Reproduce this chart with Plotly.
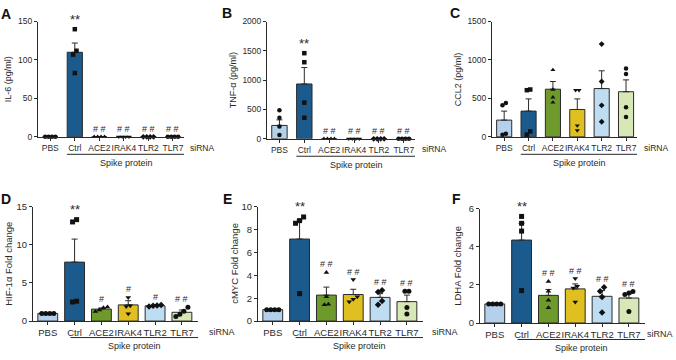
import plotly.graph_objects as go

W, H = 676, 360

groups = ["PBS", "Ctrl", "ACE2", "IRAK4", "TLR2", "TLR7"]
bar_colors = ["#b5d0ea", "#1b5a8c", "#6e9a2b", "#e0c020", "#bedcf2", "#d8e7b6"]
symbols = ["circle", "square", "triangle-up", "triangle-down", "diamond", "circle"]

# ---- Panel A: IL-6 (pg/ml)
il6_mean = [0, 110, 0, 0, 0, 0]
il6_sem = [0, 12, 0, 0, 0, 0]
il6_pts = [[0, 0, 0, 0], [140, 112, 107, 83], [0, 0, 0, 0], [0, 0, 0, 0], [0, 0, 0, 0], [0, 0, 0, 0]]
il6_sig = ["", "**", "# #", "# #", "# #", "# #"]

# ---- Panel B: TNF-α (pg/ml)
tnf_mean = [228, 935, 0, 0, 0, 0]
tnf_sem = [95, 280, 0, 0, 0, 0]
tnf_pts = [[485, 358, 209, 66], [1460, 1306, 617, 358], [0, 0, 0, 0], [0, 0, 0, 0], [0, 0, 0, 0], [0, 0, 0, 0]]
tnf_sig = ["", "**", "# #", "# #", "# #", "# #"]

# ---- Panel C: CCL2 (pg/ml)
ccl2_mean = [218, 335, 620, 356, 628, 587]
ccl2_sem = [117, 159, 100, 138, 231, 154]
ccl2_pts = [[440, 410, 42, 29], [616, 607, 71, 29], [871, 616, 515, 448],
            [607, 607, 147, 84], [1206, 720, 410, 197], [888, 817, 385, 260]]
ccl2_sig = ["", "", "", "", "", ""]

# ---- Panel D: HIF-1α Fold change
hif_mean = [1.0, 7.73, 1.57, 2.12, 2.0, 1.15]
hif_sem = [0.02, 3.02, 0.15, 0.55, 0.12, 0.3]
hif_pts = [[1, 1, 1, 1], [13.3, 13.0, 2.6, 2.5], [1.85, 1.75, 1.45, 1.25],
           [3.1, 2.0, 1.9, 0.95], [2.1, 2.05, 2.0, 1.9], [1.8, 1.3, 0.9, 0.6]]
hif_sig = ["", "**", "#", "#", "#", "# #"]

# ---- Panel E: cMYC Fold change
myc_mean = [1.0, 7.17, 2.27, 2.32, 2.07, 1.7]
myc_sem = [0.02, 1.67, 0.7, 0.46, 0.33, 0.57]
myc_pts = [[1, 1, 1, 1], [9.1, 8.78, 8.55, 2.4], [4.25, 2.12, 1.47, 1.42],
           [3.63, 2.12, 1.9, 1.7], [2.7, 2.55, 1.76, 1.42], [2.6, 2.6, 1.19, 0.62]]
myc_sig = ["", "**", "# #", "# #", "# #", "# #"]

# ---- Panel F: LDHA Fold change
ldha_mean = [1.0, 4.35, 1.45, 1.79, 1.4, 1.31]
ldha_sem = [0.02, 0.88, 0.31, 0.26, 0.3, 0.22]
ldha_pts = [[1, 1, 1, 1], [5.59, 5.23, 4.82, 1.7], [2.18, 1.67, 1.19, 0.8],
            [2.33, 1.93, 1.84, 1.1], [1.87, 1.67, 1.36, 0.55], [1.65, 1.58, 1.5, 0.6]]
ldha_sig = ["", "**", "# #", "# #", "# #", "# #"]

panels = [
    dict(letter="A", title="IL-6 (pg/ml)", mean=il6_mean, sem=il6_sem, pts=il6_pts, sig=il6_sig,
         ymax=150, dtick=50, xpx=(38, 184), ypx=(16, 135), row=0, letpx=(6, 8), titx=8, sipx=202),
    dict(letter="B", title="TNF-α (pg/ml)", mean=tnf_mean, sem=tnf_sem, pts=tnf_pts, sig=tnf_sig,
         ymax=2000, dtick=500, xpx=(267, 415), ypx=(16, 137), row=0, letpx=(227, 7), titx=233, sipx=434),
    dict(letter="C", title="CCL2 (pg/ml)", mean=ccl2_mean, sem=ccl2_sem, pts=ccl2_pts, sig=ccl2_sig,
         ymax=1500, dtick=500, xpx=(492, 637), ypx=(16, 135), row=0, letpx=(455, 7), titx=458, sipx=656),
    dict(letter="D", title="HIF-1α Fold change", mean=hif_mean, sem=hif_sem, pts=hif_pts, sig=hif_sig,
         ymax=15, dtick=5, xpx=(33, 198), ypx=(207, 325), row=1, letpx=(6, 199), titx=9, sipx=222),
    dict(letter="E", title="cMYC Fold change", mean=myc_mean, sem=myc_sem, pts=myc_pts, sig=myc_sig,
         ymax=10, dtick=2, xpx=(258, 423), ypx=(207, 325), row=1, letpx=(227, 199), titx=235, sipx=445),
    dict(letter="F", title="LDHA Fold change", mean=ldha_mean, sem=ldha_sem, pts=ldha_pts, sig=ldha_sig,
         ymax=6, dtick=2, xpx=(480, 645), ypx=(209, 327), row=1, letpx=(457, 199), titx=458, sipx=660),
]

FONT = "Liberation Sans, Arial, sans-serif"
INK = "#2a2a2a"


def px(x):
    return x / W


def py(y):
    return 1 - y / H


def spread(vals, ymax, step):
    # horizontal offsets for points that sit close together
    order = sorted(range(len(vals)), key=lambda k: vals[k])
    offs = [0.0] * len(vals)
    clusters = []
    for k in order:
        if clusters and abs(vals[k] - vals[clusters[-1][-1]]) < 0.035 * ymax:
            clusters[-1].append(k)
        else:
            clusters.append([k])
    for c in clusters:
        n = len(c)
        for j, k in enumerate(c):
            offs[k] = (j - (n - 1) / 2) * step
    return offs


fig = go.Figure()
layout = dict(width=W, height=H, margin=dict(l=0, r=0, t=0, b=0),
              paper_bgcolor="white", plot_bgcolor="white", showlegend=False,
              font=dict(family=FONT, color=INK))
annotations = []
shapes = []

for i, p in enumerate(panels):
    n = "" if i == 0 else str(i + 1)
    xa, ya = "x" + n, "y" + n
    top = p["row"] == 0
    tick_fs = 8.5 if top else 9.5
    xr = [-0.5, 5.45] if top else [-0.55, 5.6]
    bw = 0.62 if top else 0.74

    fig.add_trace(go.Bar(
        x=list(range(6)), y=p["mean"], width=bw, xaxis=xa, yaxis=ya,
        marker=dict(color=bar_colors, line=dict(color=INK, width=1)),
        error_y=dict(type="data", array=p["sem"], arrayminus=[0] * 6, symmetric=False,
                     color=INK, thickness=1, width=3),
    ))
    for g in range(6):
        vals = p["pts"][g]
        offs = spread(vals, p["ymax"], 0.14 if top else 0.15)
        fig.add_trace(go.Scatter(
            x=[g + o for o in offs], y=vals, mode="markers", xaxis=xa, yaxis=ya,
            cliponaxis=False,
            marker=dict(symbol=symbols[g], size=4.5 if top else 5, color="#111111",
                        line=dict(width=0)),
        ))

    layout["xaxis" + n] = dict(
        domain=[px(p["xpx"][0]), px(p["xpx"][1])], anchor=ya, range=xr,
        tickmode="array", tickvals=list(range(6)), ticktext=groups, tickangle=0,
        ticks="outside", ticklen=3, tickwidth=1, tickcolor=INK,
        showline=True, linecolor=INK, linewidth=1, showgrid=False, zeroline=False,
        tickfont=dict(size=tick_fs, family=FONT, color=INK), fixedrange=True)
    layout["yaxis" + n] = dict(
        domain=[py(p["ypx"][1]), py(p["ypx"][0])], anchor=xa, range=[0, p["ymax"]],
        dtick=p["dtick"], ticks="outside", ticklen=3, tickwidth=1, tickcolor=INK,
        showline=True, linecolor=INK, linewidth=1, showgrid=False, zeroline=False,
        tickfont=dict(size=tick_fs, family=FONT, color=INK), fixedrange=True)

    # y title
    annotations.append(dict(
        text=p["title"], textangle=-90, xref="paper", yref="paper",
        x=px(p["titx"]), y=py((p["ypx"][0] + p["ypx"][1]) / 2),
        xanchor="center", yanchor="middle", showarrow=False,
        font=dict(size=9 if top else 9.5, family=FONT, color=INK)))
    # panel letter
    annotations.append(dict(
        text="<b>%s</b>" % p["letter"], xref="paper", yref="paper",
        x=px(p["letpx"][0]), y=py(p["letpx"][1]), xanchor="center", yanchor="middle",
        showarrow=False, font=dict(size=14, family="Liberation Sans, Arial", color="#111")))
    # siRNA label
    lab_y = p["ypx"][1] + 11
    annotations.append(dict(
        text="siRNA", xref="paper", yref="paper",
        x=px(p["sipx"]), y=py(lab_y), xanchor="center", yanchor="middle",
        showarrow=False, font=dict(size=8.5 if top else 9, family=FONT, color=INK)))
    # bracket line + Spike protein
    x0, x1 = (0.68, 5.5) if top else (0.85, 5.6)
    ly = p["ypx"][1] + (18 if top else 17)
    shapes.append(dict(type="line", xref=xa, yref="paper", x0=x0, x1=x1,
                       y0=py(ly), y1=py(ly), line=dict(color=INK, width=1)))
    annotations.append(dict(
        text="Spike protein", xref=xa, yref="paper", x=(x0 + x1) / 2, y=py(ly + 9),
        xanchor="center", yanchor="middle", showarrow=False,
        font=dict(size=9, family=FONT, color=INK)))
    # significance marks
    for g in range(6):
        s = p["sig"][g]
        if not s:
            continue
        ytop = max(max(p["pts"][g]), p["mean"][g] + p["sem"][g])
        star = "*" in s
        annotations.append(dict(
            text=s, xref=xa, yref=ya, x=g, y=ytop, xanchor="center", yanchor="middle",
            yshift=10 if star else 8, showarrow=False,
            font=dict(size=13 if star else 9, family=FONT, color=INK)))

layout["annotations"] = annotations
layout["shapes"] = shapes
fig.update_layout(**layout)
fig.write_html("out.html", config={"displayModeBar": False, "staticPlot": True},
               post_script="document.body.style.margin='0';")
